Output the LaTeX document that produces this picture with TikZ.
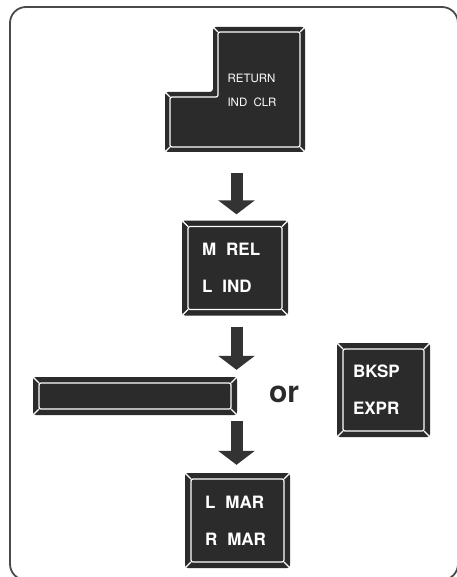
\documentclass[tikz,border=0pt]{standalone}
\usepackage{fontspec}
\setmainfont{TeX Gyre Heros}
\usetikzlibrary{arrows.meta}
\definecolor{tastenfarbe}{HTML}{2B2B2B}
\definecolor{pfeilfarbe}{HTML}{333333}
\definecolor{rahmenfarbe}{HTML}{4A4A4A}
\def\lz{\hspace{10pt}}

\tikzset{
	kante/.style={draw=white, line width=1.2pt, rounded corners=2pt},
	taste/.style={fill=tastenfarbe, rounded corners=3pt, inner ysep=0pt,
		align=left, text=white, font=\bfseries\fontsize{17}{37}\selectfont,
		path picture={
			\draw[kante] ([shift={(6pt,-6pt)}]path picture bounding box.north west)
				rectangle ([shift={(-6pt,6pt)}]path picture bounding box.south east);
			\foreach \a/\dx/\dy in {north west/6/-6, north east/-6/-6, south west/6/6, south east/-6/6}{
				\draw[kante] (path picture bounding box.\a) -- ++(\dx pt,\dy pt);
			}
		}},
	pfeil/.style={draw=pfeilfarbe, line width=12pt, -{Triangle[width=36pt,length=14pt]}},
}

\begin{document}
\begin{tikzpicture}[x=1pt,y=-1pt]
\useasboundingbox (0,0) rectangle (456,577);
\fill[white] (0,0) rectangle (456,577);
\draw[rahmenfarbe, line width=1.8pt, rounded corners=16] (10,7) rectangle (458,580);

% L-foermige Taste
\fill[tastenfarbe, rounded corners=3]
	(213,27) -- (305,27) -- (305,152) -- (165,152) -- (165,92) -- (213,92) -- cycle;
\draw[kante] (218,32) -- (300,32) -- (300,147) -- (170,147) -- (170,97) -- (218,97) -- cycle;
\foreach \a/\b/\c/\d in {213/27/218/32, 305/27/300/32, 305/152/300/147, 165/152/170/147, 165/92/170/97}{
	\draw[kante] (\a,\b) -- (\c,\d);
}
\node[anchor=west, align=left, text=white, font=\fontsize{11.5}{24}\selectfont] (ret) at (224,90) {RETURN\\IND\hspace{3pt} CLR};
\coordinate (ret-s) at (236.5,152);

% Tasten
\node[taste, text width=66pt, inner xsep=20pt, minimum height=95pt] (mrel) at (235,268) {M\lz REL\\L\lz IND};
\node[taste, minimum width=204pt, minimum height=38pt] (leer) at (135,396) {};
\node[font=\bfseries\fontsize{30}{32}\selectfont, text=tastenfarbe] (oder) at (284,394) {or};
\node[taste, text width=61pt, inner xsep=16pt, minimum height=94pt] (bksp) at (383.5,390) {BKSP\\EXPR};
\node[taste, text width=65pt, inner xsep=20pt, minimum height=95pt] (lmar) at (237.5,520.5) {L\lz MAR\\R\lz MAR};

% Pfeile
\draw[pfeil, shorten <=21pt, shorten >=6pt] (ret-s) -- (ret-s |- mrel.north);
\draw[pfeil, shorten <=11pt, shorten >=7pt] (ret-s |- mrel.south) -- (ret-s |- leer.north);
\draw[pfeil, shorten <=6pt, shorten >=8pt] (ret-s |- leer.south) -- (ret-s |- lmar.north);
\end{tikzpicture}
\end{document}
